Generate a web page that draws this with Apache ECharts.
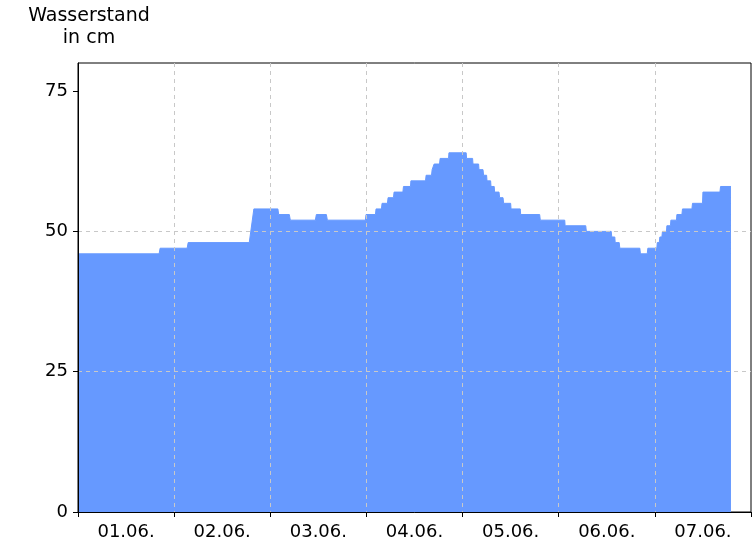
<!DOCTYPE html>
<html>
<head>
<meta charset="utf-8">
<script src="https://cdn.jsdelivr.net/npm/echarts@6/dist/echarts.min.js"></script>
<style>
html,body{margin:0;padding:0;background:#fff;}
#chart{width:756px;height:546px;}
</style>
</head>
<body>
<div id="chart"></div>
<script>
// Day labels (placed at noon of each day; x axis unit = hours since 01.06. 00:00)
var dayLabels = ['01.06.', '02.06.', '03.06.', '04.06.', '05.06.', '06.06.', '07.06.'];
var yTicks = [0, 25, 50, 75];

// Water level plateaus: start hour, end hour, level in cm
var stepStart = [0, 20.5, 27.5, 43.9, 50.1, 53, 59.5, 62.25, 71.9, 74.4, 75.9, 77.4, 78.9, 81.25, 83.1, 86.9, 88.4, 88.9, 90.4, 92.6,
  97, 98.6, 100.1, 101.25, 102.1, 103.1, 104, 105.25, 106.25, 108.1, 110.5, 115.4, 121.6, 126.9, 133.25, 134.1, 135.25, 140.4,
  142.25, 144.6, 145.25, 145.9, 147, 148, 149.5, 150.9, 153.4, 156, 160.4];
var stepEnd = [20.25, 27.25, 42.75, 49.9, 52.75, 59.25, 62, 71.75, 74.25, 75.75, 77.25, 78.75, 81.1, 83, 86.75, 88.25, 88.75, 90.25, 92.5, 96.9,
  98.5, 100, 101.1, 102, 103, 103.9, 105.1, 106.1, 108, 110.4, 115.25, 121.5, 126.75, 133.1, 134, 135.1, 140.25, 142.1,
  144.5, 145.1, 145.75, 146.9, 147.9, 149.4, 150.75, 153.25, 155.9, 160.25, 163];
var stepValue = [46, 47, 48, 54, 53, 52, 53, 52, 53, 54, 55, 56, 57, 58, 59, 60, 61, 62, 63, 64,
  63, 62, 61, 60, 59, 58, 57, 56, 55, 54, 53, 52, 51, 50, 49, 48, 47, 46,
  47, 48, 49, 50, 51, 52, 53, 54, 55, 57, 58];

var data = [];
for (var i = 0; i < stepValue.length; i++) {
  data.push([stepStart[i], stepValue[i]]);
  data.push([stepEnd[i], stepValue[i]]);
}

var labelHours = dayLabels.map(function (d, i) { return 12 + 24 * i; });
var dayBounds = [0, 24, 48, 72, 96, 120, 144, 168];

var font = 'DejaVu Sans';
var chart = echarts.init(document.getElementById('chart'), null, {renderer: 'canvas'});
chart.setOption({
  animation: false,
  backgroundColor: '#ffffff',
  title: {
    text: 'Wasserstand\nin cm',
    left: 84,
    top: 0,
    textAlign: 'center',
    textStyle: {fontFamily: font, fontSize: 19, fontWeight: 'normal', color: '#000', lineHeight: 22}
  },
  grid: {
    left: 78, top: 63, right: 5, bottom: 34,
    show: true, borderColor: '#000', borderWidth: 1, backgroundColor: 'transparent'
  },
  xAxis: {
    type: 'value', min: 0, max: 168, interval: 24, z: 5,
    axisLine: {lineStyle: {color: '#000', width: 1}},
    axisTick: {show: true, length: 5, customValues: dayBounds, lineStyle: {color: '#000'}},
    axisLabel: {
      customValues: labelHours, margin: 11,
      fontFamily: font, fontSize: 18, color: '#000',
      formatter: function (v) { return dayLabels[Math.round((v - 12) / 24)]; }
    },
    splitLine: {show: true, showMinLine: false, showMaxLine: false, lineStyle: {color: '#c8c8c8', type: [4, 4], width: 1}}
  },
  yAxis: {
    type: 'value', min: 0, max: 80, interval: 25, z: 5,
    axisLine: {show: true, lineStyle: {color: '#000', width: 1}},
    axisTick: {show: true, length: 5, customValues: yTicks, lineStyle: {color: '#000'}},
    axisLabel: {customValues: yTicks, margin: 10, fontFamily: font, fontSize: 18, color: '#000'},
    splitLine: {show: true, showMinLine: false, showMaxLine: false, lineStyle: {color: '#c8c8c8', type: [4, 4], width: 1}}
  },
  series: [{
    type: 'line',
    data: data,
    z: 1,
    symbol: 'none',
    silent: true,
    lineStyle: {color: '#6699ff', width: 1},
    areaStyle: {color: '#6699ff', opacity: 1}
  }]
});
</script>
</body>
</html>
